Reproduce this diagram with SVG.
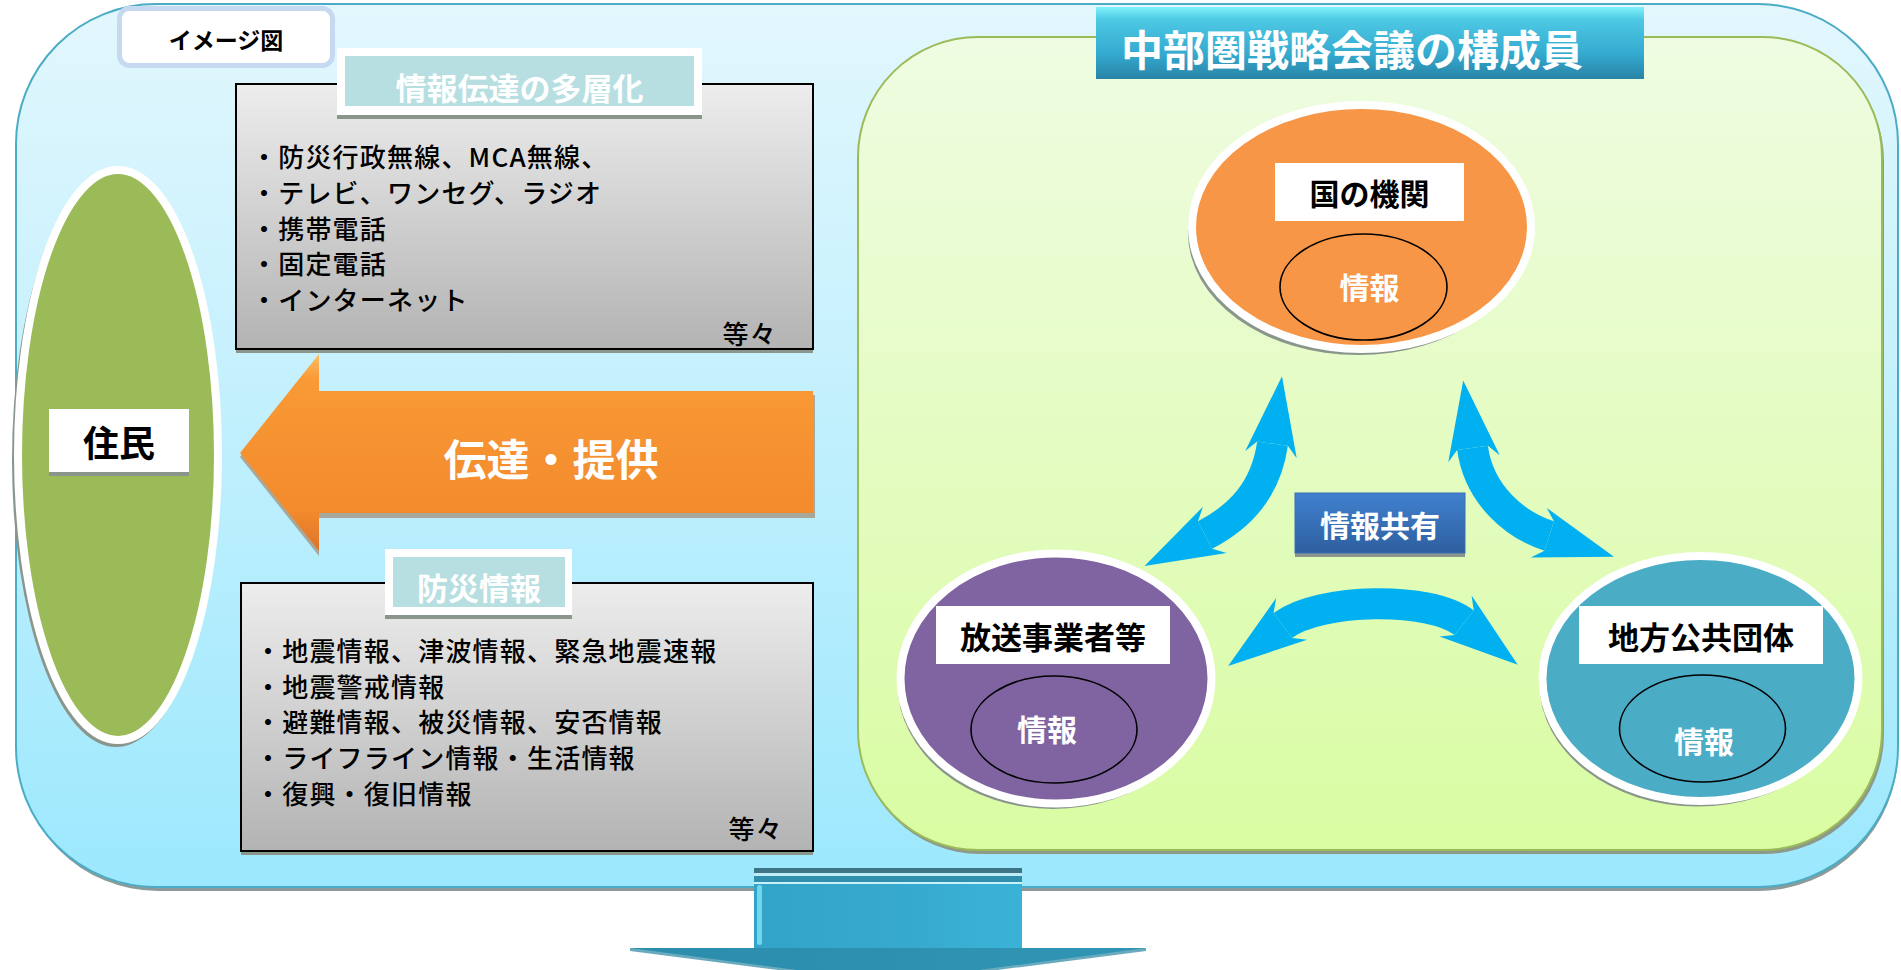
<svg xmlns="http://www.w3.org/2000/svg" width="1901" height="970" viewBox="0 0 1901 970">
<defs>
<style>
text{font-family:"Noto Sans CJK JP","Noto Sans CJK SC",sans-serif;dominant-baseline:central}
.b{font-weight:bold}
.w{fill:#ffffff}
.k{fill:#000000}
.item{font-size:26px;letter-spacing:1.2px;fill:#000;font-weight:500}
.shd{fill:#8a968c}
.ring{stroke:#ffffff;stroke-width:8}
.inner{fill:none;stroke:#000;stroke-width:1.6}
.conn{fill:none;stroke:#00b0f0;stroke-width:31;marker-start:url(#bh);marker-end:url(#bh)}
</style>
<linearGradient id="gOuter" x1="0" y1="0" x2="0" y2="1">
<stop offset="0" stop-color="#e3f7fd"/><stop offset="1" stop-color="#9ce8fd"/>
</linearGradient>
<linearGradient id="gGreen" x1="0" y1="0" x2="0" y2="1">
<stop offset="0" stop-color="#effce2"/><stop offset="1" stop-color="#d9fca2"/>
</linearGradient>
<linearGradient id="gGray" x1="0" y1="0" x2="0" y2="1">
<stop offset="0" stop-color="#ededed"/><stop offset="1" stop-color="#b3b3b3"/>
</linearGradient>
<linearGradient id="gTitle" x1="0" y1="0" x2="0" y2="1">
<stop offset="0" stop-color="#80f2fc"/><stop offset="0.18" stop-color="#4cc8e3"/><stop offset="0.65" stop-color="#35aad0"/><stop offset="1" stop-color="#2883a6"/>
</linearGradient>
<linearGradient id="gOrange" x1="0" y1="0" x2="0" y2="1">
<stop offset="0" stop-color="#fcc066"/><stop offset="0.12" stop-color="#f99a36"/><stop offset="0.8" stop-color="#f38a2c"/><stop offset="1" stop-color="#dc742a"/>
</linearGradient>
<linearGradient id="gShare" x1="0" y1="0" x2="0" y2="1">
<stop offset="0" stop-color="#4081cf"/><stop offset="1" stop-color="#2e5f9f"/>
</linearGradient>
<linearGradient id="gDown" x1="0" y1="0" x2="1" y2="0">
<stop offset="0" stop-color="#2f9fc2"/><stop offset="0.5" stop-color="#36a9cd"/><stop offset="1" stop-color="#3dbbe1"/>
</linearGradient>
<marker id="bh" markerUnits="userSpaceOnUse" orient="auto-start-reverse" viewBox="-100 -100 200 200" markerWidth="200" markerHeight="200" refX="0" refY="0">
<path d="M68,0 L-11,-26 L0,-15.5 L0,15.5 L-11,26 Z" fill="#00b0f0"/>
</marker>
</defs>

<g id="background">
<rect x="18" y="9" width="1880" height="882" rx="140" ry="140" fill="#8d9a9a"/>
<rect x="16" y="4" width="1882" height="883" rx="140" ry="140" fill="url(#gOuter)" stroke="#4bacc6" stroke-width="2"/>
</g>

<g id="members-area">
<rect x="860" y="41" width="1024" height="813" rx="120" ry="120" fill="#8d9a8a"/>
<rect x="858" y="37" width="1024" height="813" rx="120" ry="120" fill="url(#gGreen)" stroke="#9bbb59" stroke-width="2"/>
</g>

<g id="title">
<rect x="1096" y="7" width="548" height="72" fill="url(#gTitle)"/>
<text x="1121" y="47" class="b w" font-size="42">中部圏戦略会議の構成員</text>
</g>

<g id="image-label">
<rect x="119.5" y="8.5" width="213" height="57" rx="10" fill="#ffffff" stroke="#c6d9f1" stroke-width="5"/>
<text x="226" y="39" class="b k" font-size="23" text-anchor="middle">イメージ図</text>
</g>

<g id="media-box">
<rect x="236" y="349" width="577" height="4" class="shd"/>
<rect x="236" y="84" width="577" height="265" fill="url(#gGray)" stroke="#000" stroke-width="2"/>
<rect x="337" y="115" width="365" height="4" class="shd"/>
<rect x="337" y="48" width="365" height="67" fill="#ffffff"/>
<rect x="345" y="56" width="349" height="50" fill="#b7dfe2"/>
<text x="519.5" y="86" class="b w" font-size="31" text-anchor="middle">情報伝達の多層化</text>
<text x="251" y="155" class="item">・防災行政無線、MCA無線、</text>
<text x="251" y="191" class="item">・テレビ、ワンセグ、ラジオ</text>
<text x="251" y="227" class="item">・携帯電話</text>
<text x="251" y="262.5" class="item">・固定電話</text>
<text x="251" y="298" class="item">・インターネット</text>
<text x="777" y="332" class="item" text-anchor="end">等々</text>
</g>

<g id="info-box">
<rect x="241" y="851" width="572" height="4" class="shd"/>
<rect x="241" y="583" width="572" height="268" fill="url(#gGray)" stroke="#000" stroke-width="2"/>
<rect x="385" y="615" width="187" height="4" class="shd"/>
<rect x="385" y="549" width="187" height="66" fill="#ffffff"/>
<rect x="393" y="557" width="172" height="50" fill="#b7dfe2"/>
<text x="479" y="586" class="b w" font-size="31" text-anchor="middle">防災情報</text>
<text x="255" y="649" class="item">・地震情報、津波情報、緊急地震速報</text>
<text x="255" y="685" class="item">・地震警戒情報</text>
<text x="255" y="720.5" class="item">・避難情報、被災情報、安否情報</text>
<text x="255" y="756" class="item">・ライフライン情報・生活情報</text>
<text x="255" y="792" class="item">・復興・復旧情報</text>
<text x="783" y="827" class="item" text-anchor="end">等々</text>
</g>

<g id="residents">
<ellipse cx="116" cy="460" rx="104" ry="287" class="shd"/>
<ellipse cx="118" cy="455" rx="100" ry="285" fill="#9bbb59" class="ring"/>
<rect x="49" y="472" width="140" height="4" class="shd"/>
<rect x="49" y="409" width="140" height="63" fill="#ffffff"/>
<text x="119" y="441" class="b k" font-size="36" text-anchor="middle">住民</text>
</g>

<g id="transmit-arrow">
<polygon points="240,457 319,358 319,395 815,395 815,518 319,518 319,556" fill="#9a7a5a" opacity="0.6"/>
<polygon points="240,453 319,354 319,391 813,391 813,513 319,513 319,551" fill="url(#gOrange)"/>
<text x="551" y="457" class="b w" font-size="43" text-anchor="middle">伝達・提供</text>
</g>

<g id="national">
<ellipse cx="1358" cy="233" rx="170" ry="122" class="shd"/>
<ellipse cx="1361.5" cy="227" rx="169.5" ry="122" fill="#f79646" class="ring"/>
<rect x="1275" y="163" width="189" height="58" fill="#ffffff"/>
<text x="1369.5" y="192" class="b k" font-size="30" text-anchor="middle">国の機関</text>
<ellipse cx="1363.5" cy="287" rx="83.5" ry="53" class="inner"/>
<text x="1369.5" y="286" class="b w" font-size="30" text-anchor="middle">情報</text>
</g>

<g id="broadcasters">
<ellipse cx="1053" cy="684" rx="155.5" ry="125" class="shd"/>
<ellipse cx="1056" cy="678.5" rx="155.5" ry="125" fill="#8064a2" class="ring"/>
<rect x="936" y="606" width="234" height="58" fill="#ffffff"/>
<text x="1053" y="635" class="b k" font-size="31" text-anchor="middle">放送事業者等</text>
<ellipse cx="1054" cy="729.5" rx="83" ry="53.5" class="inner"/>
<text x="1047" y="728" class="b w" font-size="30" text-anchor="middle">情報</text>
</g>

<g id="local-gov">
<ellipse cx="1697.5" cy="684" rx="158" ry="122.5" class="shd"/>
<ellipse cx="1700.5" cy="678.5" rx="158" ry="122.5" fill="#4bacc6" class="ring"/>
<rect x="1579" y="606" width="244" height="58" fill="#ffffff"/>
<text x="1701" y="635" class="b k" font-size="31" text-anchor="middle">地方公共団体</text>
<ellipse cx="1702.5" cy="728.5" rx="83" ry="53.5" class="inner"/>
<text x="1704" y="740" class="b w" font-size="30" text-anchor="middle">情報</text>
</g>

<g id="connectors">
<path class="conn" d="M1272.5,443.7 C1266,490 1240,517 1205,535"/>
<path class="conn" d="M1472.5,447.9 C1479,495 1515,525 1549.2,536"/>
<path class="conn" d="M1282.8,625.5 C1320,598 1430,596 1464.2,622.8"/>
</g>

<g id="share-label">
<rect x="1295" y="553" width="170" height="4" class="shd"/>
<rect x="1295" y="493" width="170" height="60" fill="url(#gShare)" stroke="#3a6fb5" stroke-width="1"/>
<text x="1380" y="524" class="b w" font-size="30" text-anchor="middle">情報共有</text>
</g>

<g id="down-arrow">
<polygon points="754,883 1022,883 1022,948 1146,948 888,982 630,948 754,948" fill="url(#gDown)"/>
<polygon points="630,948 1146,948 1146,951 888,984 630,951" fill="#2b86a3" opacity="0.7"/>
<rect x="757" y="885" width="5" height="60" rx="2.5" fill="#7fe4f8" opacity="0.8"/>
<rect x="754" y="868" width="268" height="5" fill="#3d7587"/>
<rect x="754" y="873" width="268" height="3" fill="#bfeef8"/>
<rect x="754" y="876" width="268" height="6" fill="#2f8fac"/>
<rect x="754" y="882" width="268" height="2" fill="#c9f1fa"/>
</g>
</svg>
